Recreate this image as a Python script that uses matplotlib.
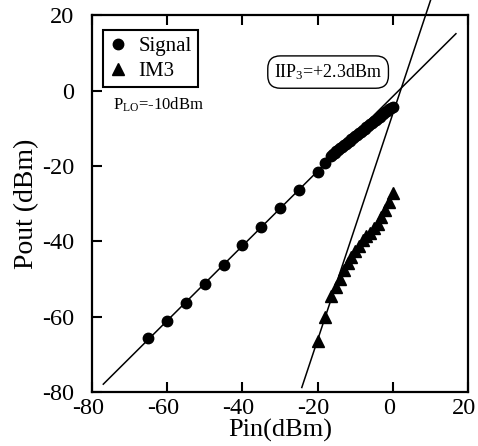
import numpy as np
import matplotlib
matplotlib.use('Agg')
import matplotlib.pyplot as plt
import matplotlib.transforms as mtransforms

plt.rcParams['font.family'] = ['Liberation Serif', 'DejaVu Serif']
plt.rcParams['mathtext.fontset'] = 'custom'
plt.rcParams['mathtext.rm'] = 'Liberation Serif'
plt.rcParams['mathtext.it'] = 'Liberation Serif:italic'
plt.rcParams['axes.unicode_minus'] = False

# Signal (fundamental) output vs input power
sig_pin = [-65, -60, -55, -50, -45, -40, -35, -30, -25, -20, -18,
           -16.5, -16, -15.5, -15, -14.5, -14, -13.5, -13, -12.5, -12,
           -11.5, -11, -10.5, -10, -9.5, -9, -8.5, -8, -7.5, -7,
           -6.5, -6, -5.5, -5, -4.5, -4, -3.5, -3, -2.5, -2,
           -1.5, -1, -0.5, 0]
sig_pout = [-65.6, -61.2, -56.4, -51.3, -46.3, -41.1, -36.3, -31.1, -26.3, -21.5, -19.3,
            -17.3, -16.9, -16.5, -16.1, -15.7, -15.3, -14.9, -14.5, -14.1, -13.7,
            -13.3, -12.9, -12.5, -12.1, -11.7, -11.3, -10.9, -10.5, -10.1, -9.7,
            -9.3, -8.9, -8.5, -8.1, -7.7, -7.3, -6.9, -6.5, -6.1, -5.7,
            -5.4, -5.0, -4.7, -4.4]

# Third-order intermod products
im3_pin = [-20, -18, -16.5, -15, -14, -13, -12, -11, -10, -9, -8, -7,
           -6, -5, -4, -3, -2, -1, 0]
im3_pout = [-66.5, -60.0, -54.5, -52.0, -50.0, -47.5, -45.8, -44.2, -42.5,
            -41.2, -39.7, -38.7, -37.8, -36.5, -35.3, -33.6, -31.8, -29.7, -27.3]

iip3 = 2.3

# Fit the linear (small-signal) region of the fundamental
pin_arr = np.array(sig_pin)
pout_arr = np.array(sig_pout)
lin = pin_arr <= -20
slope, intercept = np.polyfit(pin_arr[lin], pout_arr[lin], 1)
oip3 = slope * iip3 + intercept

fig = plt.figure(figsize=(4.78, 4.46), dpi=100)
ax = fig.add_axes([0.1925, 0.121, 0.7865, 0.845])

# Extrapolated lines
x_fund = np.array([-77, 16.8])
ax.plot(x_fund, slope * x_fund + intercept, color='black', lw=1.1)
x_im3 = np.array([-24.2, 10.5])
ax.plot(x_im3, oip3 + 3 * (x_im3 - iip3), color='black', lw=1.1, clip_on=False)

ax.plot(sig_pin, sig_pout, linestyle='none', marker='o', ms=7.5,
        color='black', label='Signal')
ax.plot(im3_pin, im3_pout, linestyle='none', marker='^', ms=8,
        color='black', label='IM3')

ax.set_xlim(-80, 20)
ax.set_ylim(-80, 20)
ax.set_xticks(np.arange(-80, 21, 20))
ax.set_yticks(np.arange(-80, 21, 20))
ax.tick_params(direction='in', length=7, width=1.5, labelsize=17.5,
               top=True, right=False)
ax.tick_params(axis='x', pad=4)
ax.tick_params(axis='y', pad=13)
shift = mtransforms.ScaledTranslation(-4 / 100, 0, fig.dpi_scale_trans)
for lbl in ax.get_xticklabels():
    lbl.set_transform(lbl.get_transform() + shift)
for sp in ax.spines.values():
    sp.set_linewidth(1.6)

ax.set_xlabel('Pin(dBm)', fontsize=19, labelpad=0)
ax.set_ylabel('Pout (dBm)', fontsize=20, labelpad=2)

leg = ax.legend(loc='upper left', bbox_to_anchor=(0.029, 0.960), borderaxespad=0,
                fontsize=15, fancybox=False, edgecolor='black', framealpha=1,
                handlelength=0.8, handletextpad=0.6, borderpad=0.3,
                labelspacing=0.25)
leg.get_frame().set_linewidth(1.5)

ax.text(-17.2, 4.9, r'IIP$_3$=+2.3dBm', fontsize=13, ha='center', va='center',
        bbox=dict(boxstyle='round,pad=0.35,rounding_size=0.7', fc='white',
                  ec='black', lw=1.0))
ax.text(-74.4, -3.9, r'P$_{\rm LO}$=-10dBm', fontsize=12, ha='left', va='center')

fig.savefig('out.png', dpi=100)
